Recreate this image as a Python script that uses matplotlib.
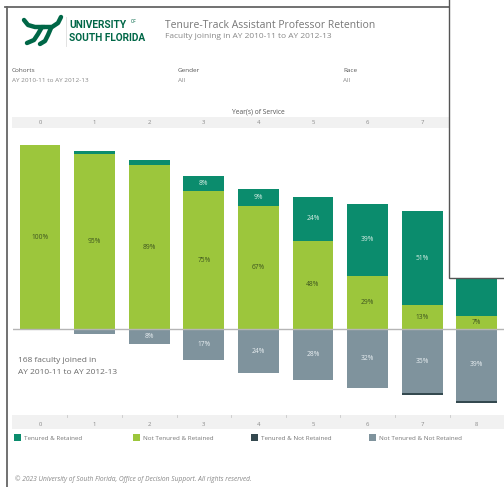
import matplotlib
matplotlib.use("Agg")
import matplotlib.pyplot as plt
from matplotlib.patches import Rectangle
import matplotlib.transforms as mtransforms
import numpy as np

plt.rcParams['font.family'] = ['Open Sans', 'DejaVu Sans']

# data (percent of cohort)
years = [0, 1, 2, 3, 4, 5, 6, 7, 8]
tenured_retained = [0, 2, 3, 8, 9, 24, 39, 51, 53]
not_tenured_retained = [100, 95, 89, 75, 67, 48, 29, 13, 7]
tenured_not_retained = [0, 0, 0, 0, 0, 0, 0, 1, 1]
not_tenured_not_retained = [0, 3, 8, 17, 24, 28, 32, 35, 39]
legend_labels = ['Tenured & Retained', 'Not Tenured & Retained',
                 'Tenured & Not Retained', 'Not Tenured & Not Retained']

TEAL = '#0b8c6d'
GREEN = '#9cc63c'
DARK = '#34494f'
GRAY = '#7f939d'
USF = '#006747'
TXT = '#6a6a6a'

W, H = 504, 487
fig = plt.figure(figsize=(W / 100, H / 100), dpi=100)
fig.patch.set_facecolor('white')

# background layer in pixel coordinates
bg = fig.add_axes([0, 0, 1, 1], zorder=-1)
bg.set_xlim(0, W)
bg.set_ylim(H, 0)
bg.axis('off')
bg.patch.set_visible(False)

# dashboard frame
bg.plot([5, 449], [7, 7], color='#666666', lw=1.3)
bg.plot([7, 7], [7, H], color='#666666', lw=1.3)

# logo (rough bull horns)
for pts in ([(24, 20), (28, 25), (35, 27), (44, 27)],
            [(61, 17), (58, 23), (52, 27), (44, 27)],
            [(42, 27), (38, 34), (34, 40), (27, 43)],
            [(51, 28), (48, 35), (45, 41), (40, 44)]):
    xs, ys = zip(*pts)
    bg.plot(xs, ys, color=USF, lw=3.2, solid_capstyle='round', solid_joinstyle='round')
bg.plot([65.5, 65.5], [17, 46], color='#dddddd', lw=0.6)
bg.text(69, 24.5, 'UNIVERSITY', family=['Roboto', 'DejaVu Sans'], weight='bold',
        fontsize=7.3, color=USF, va='center', ha='left')
bg.text(131, 21.5, 'OF', family=['Roboto', 'DejaVu Sans'], fontsize=3.4, color=USF, va='center')
bg.text(69, 38, 'SOUTH FLORIDA', family=['Roboto', 'DejaVu Sans'], weight='bold',
        fontsize=7.3, color=USF, va='center', ha='left')

bg.text(165, 25, 'Tenure-Track Assistant Professor Retention', fontsize=7.5,
        color='#777777', va='center')
bg.text(165, 37, 'Faculty joining in AY 2010-11 to AY 2012-13', fontsize=6.0,
        color='#888888', va='center')

# filters
for x, lab, val in [(12, 'Cohorts', 'AY 2010-11 to AY 2012-13'),
                    (178, 'Gender', 'All'), (343, 'Race', 'All')]:
    bg.text(x, 71, lab, fontsize=4.6, color='#555555', va='center')
    bg.text(x, 81, val, fontsize=4.6, color='#888888', va='center')

# header and footer bands
bg.add_patch(Rectangle((12, 117), 437, 11, facecolor='#f1f1f1', edgecolor='none'))
bg.add_patch(Rectangle((12, 415), 492, 14, facecolor='#f1f1f1', edgecolor='none'))

bg.text(18, 360, '168 faculty joined in', fontsize=6.0, color=TXT, va='center')
bg.text(18, 373, 'AY 2010-11 to AY 2012-13', fontsize=6.0, color=TXT, va='center')

# legend
legend_x = [14, 133, 251, 369]
for x, lab, c in zip(legend_x, legend_labels, [TEAL, GREEN, DARK, GRAY]):
    bg.add_patch(Rectangle((x, 434), 7, 7, facecolor=c, edgecolor='none'))
    bg.text(x + 10, 438, lab, fontsize=4.5, color='#777777', va='center')

bg.text(15, 479, '\u00a9 2023 University of South Florida, Office of Decision Support. All rights reserved.',
        fontsize=4.8, style='italic', color='#888888', va='center')

# main chart
ax = fig.add_axes([12.7 / W, (H - 413) / H, 491.4 / W, 283 / H])
ax.patch.set_visible(False)
x = np.array(years)
tr = np.array(tenured_retained)
ntr = np.array(not_tenured_retained)
tnr = np.array(tenured_not_retained)
ntnr = np.array(not_tenured_not_retained)
bw = 0.75
ax.bar(x, ntr, bw, color=GREEN)
ax.bar(x, tr, bw, bottom=ntr, color=TEAL)
ax.bar(x, -ntnr, bw, color=GRAY)
ax.bar(x, -tnr, bw, bottom=-ntnr, color=DARK)
ax.axhline(0, color='#b5b5b5', lw=1)
ax.set_xlim(-0.5, 8.5)
ax.set_ylim(-45.7, 108.2)
for s in ax.spines.values():
    s.set_visible(False)
ax.set_xticks([])
ax.set_yticks([])

for i in range(len(x)):
    segs = [(ntr[i], ntr[i] / 2, '#3f5620'),
            (tr[i], ntr[i] + tr[i] / 2, '#d9efe6'),
            (ntnr[i], -ntnr[i] / 2, '#e8eef1')]
    for v, yc, c in segs:
        if v >= 5:
            ax.text(x[i], yc, f'{v}%', ha='center', va='center', fontsize=4.8, color=c)

# year headers top and bottom
trans = mtransforms.blended_transform_factory(ax.transData, ax.transAxes)
for i in years:
    ax.text(i, (413 - 122.5) / 283, str(i), transform=trans, ha='center', va='center',
            fontsize=4.2, color='#888888', clip_on=False)
    ax.text(i, (413 - 424) / 283, str(i), transform=trans, ha='center', va='center',
            fontsize=4.2, color='#888888', clip_on=False)
for i in years[1:]:
    ax.plot([i - 0.5, i - 0.5], [(413 - 415) / 283, (413 - 417) / 283], transform=trans,
            color='#c8c8c8', lw=0.6, clip_on=False)
ax.text(4, (413 - 112) / 283, 'Year(s) of Service', transform=trans, ha='center',
        va='center', fontsize=4.8, color='#555555', clip_on=False)

# overlapping window in the top-right corner
fg = fig.add_axes([0, 0, 1, 1], zorder=5)
fg.set_xlim(0, W)
fg.set_ylim(H, 0)
fg.axis('off')
fg.patch.set_visible(False)
fg.add_patch(Rectangle((449, -5), 70, 283, facecolor='white', edgecolor='#555555', lw=1.0))

fig.savefig('out.png', dpi=100)
